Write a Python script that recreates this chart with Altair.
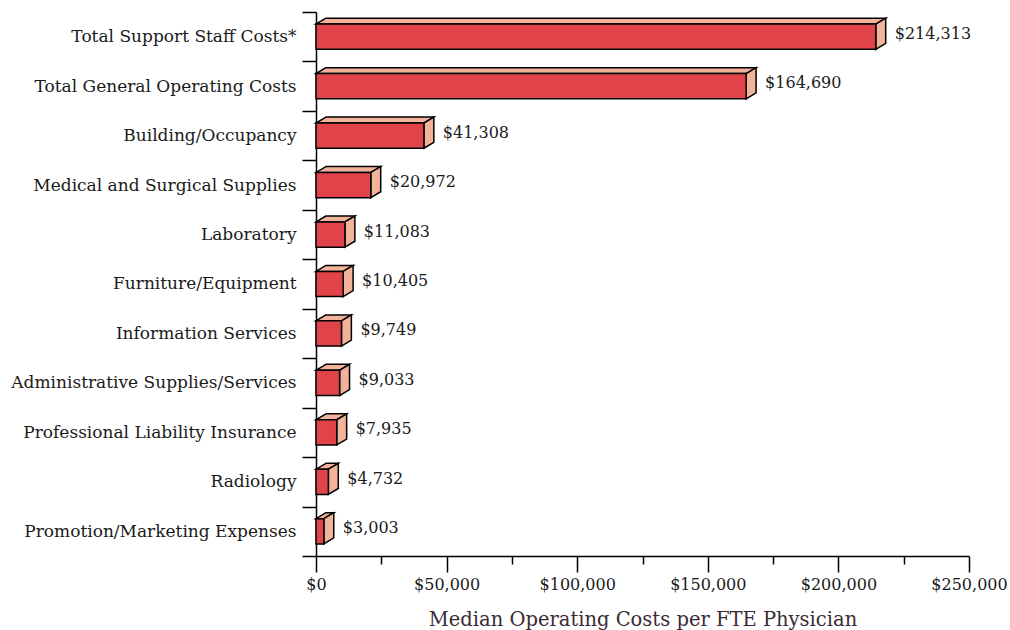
import altair as alt
import pandas as pd

categories = [
    "Total Support Staff Costs*",
    "Total General Operating Costs",
    "Building/Occupancy",
    "Medical and Surgical Supplies",
    "Laboratory",
    "Furniture/Equipment",
    "Information Services",
    "Administrative Supplies/Services",
    "Professional Liability Insurance",
    "Radiology",
    "Promotion/Marketing Expenses",
]
values = [214313, 164690, 41308, 20972, 11083, 10405, 9749, 9033, 7935, 4732, 3003]

FRONT = "#E0444A"
SIDE = "#F3B29A"
FONT = "DejaVu Serif"

n = len(categories)
DX = 3800    # depth in x (data units)
DY = 0.12    # depth in y (band units)
H = 0.255    # half bar height (band units)

front_rows, top_rows, side_rows, label_rows = [], [], [], []
for i, (c, v) in enumerate(zip(categories, values)):
    ctr = (n - 1 - i) + 0.5
    front_rows.append({"cat": c, "x": 0, "x2": v, "y": ctr - H, "y2": ctr + H})
    top_rows.append({"cat": c, "y": ctr + H, "x": 0, "x2": v})
    top_rows.append({"cat": c, "y": ctr + H + DY, "x": DX, "x2": v + DX})
    side_rows.append({"cat": c, "x": v, "y": ctr - H, "y2": ctr + H})
    side_rows.append({"cat": c, "x": v + DX, "y": ctr - H + DY, "y2": ctr + H + DY})
    label_rows.append({"cat": c, "x": v + DX, "y": ctr + 0.06, "label": "$" + format(v, ",")})

front_df = pd.DataFrame(front_rows)
top_df = pd.DataFrame(top_rows)
side_df = pd.DataFrame(side_rows)
label_df = pd.DataFrame(label_rows)

names_bottom_up = list(reversed(categories))
arr = "[" + ",".join("'" + s.replace("'", "\\'") + "'" for s in names_bottom_up) + "]"

xscale = alt.Scale(domain=[0, 250000], nice=False)
yscale = alt.Scale(domain=[0, n], nice=False)

x_axis = alt.Axis(
    values=list(range(0, 250001, 25000)),
    labelExpr="datum.value % 50000 == 0 ? '$' + format(datum.value, ',') : ''",
    tickSize={"condition": {"test": "datum.value % 50000 == 0", "value": 16}, "value": 8},
    labelPadding=4,
    labelFlush=False,
    labelFont=FONT, labelFontSize=16, labelColor="#1a1a1a",
    title="Median Operating Costs per FTE Physician",
    titleFont=FONT, titleFontSize=19.5, titleFontWeight="normal", titleColor="#3B2A36",
    titlePadding=18,
    domainColor="black", domainWidth=1.5, tickColor="black", tickWidth=1.5,
    grid=False,
)
y_axis = alt.Axis(
    values=list(range(0, n + 1)),
    labelExpr=f"datum.value == 0 ? '' : {arr}[datum.value - 1]",
    labelOffset=24.7,
    labelLimit=0,
    tickSize=14,
    labelPadding=6,
    labelFont=FONT, labelFontSize=17, labelColor="#1a1a1a",
    title=None,
    domainColor="black", domainWidth=1.5, tickColor="black", tickWidth=1.5,
    grid=False,
)

top = alt.Chart(top_df).mark_area(orient="horizontal", fill=SIDE, stroke="black", strokeWidth=1.5).encode(
    y=alt.Y("y:Q", scale=yscale, axis=y_axis),
    x=alt.X("x:Q", scale=xscale, axis=x_axis),
    x2="x2:Q",
    detail="cat:N",
)
side = alt.Chart(side_df).mark_area(orient="vertical", fill=SIDE, stroke="black", strokeWidth=1.5).encode(
    x=alt.X("x:Q", scale=xscale),
    y=alt.Y("y:Q", scale=yscale),
    y2="y2:Q",
    detail="cat:N",
)
front = alt.Chart(front_df).mark_rect(fill=FRONT, stroke="black", strokeWidth=1.5).encode(
    x=alt.X("x:Q", scale=xscale),
    x2="x2:Q",
    y=alt.Y("y:Q", scale=yscale),
    y2="y2:Q",
)
labels = alt.Chart(label_df).mark_text(
    align="left", baseline="middle", dx=9, font=FONT, fontSize=16, color="#1a1a1a"
).encode(
    x=alt.X("x:Q", scale=xscale),
    y=alt.Y("y:Q", scale=yscale),
    text="label:N",
)

chart = alt.layer(top, side, front, labels).properties(
    width=653, height=544,
    background="white",
    autosize=alt.AutoSizeParams(type="none"),
    padding={"left": 316, "top": 12, "right": 41, "bottom": 74},
).configure_view(strokeWidth=0, stroke="transparent")

chart.save("out.html", embed_options={"renderer": "svg", "actions": False})
